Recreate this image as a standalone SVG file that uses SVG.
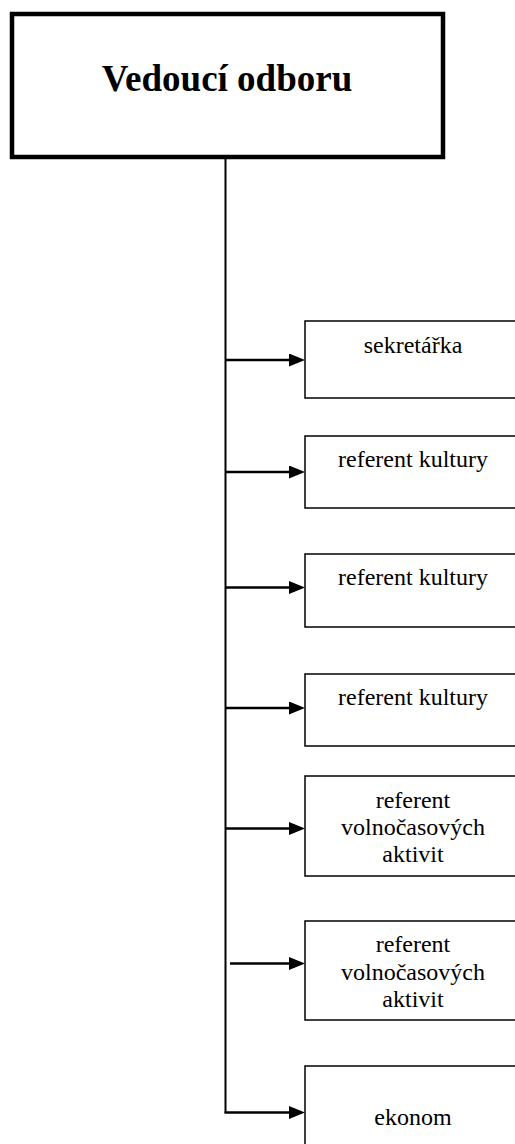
<svg xmlns="http://www.w3.org/2000/svg" width="515" height="1144" viewBox="0 0 515 1144">
  <style>
    .box { fill: #ffffff; stroke: #000000; stroke-width: 1.5; }
    .title { fill: #ffffff; stroke: #000000; stroke-width: 4.5; }
    .lbl { font-family: "Liberation Serif", "Times New Roman", serif; font-size: 24px; fill: #000000; text-anchor: middle; }
    .ttl { font-family: "Liberation Serif", "Times New Roman", serif; font-size: 37px; font-weight: bold; fill: #000000; text-anchor: middle; }
    .conn { stroke: #000000; stroke-width: 2; fill: none; }
    .arr { stroke: #000000; stroke-width: 2.5; fill: none; }
  </style>
  <defs>
    <marker id="ah" viewBox="0 0 16 13" refX="0" refY="6.5" markerWidth="16" markerHeight="13" markerUnits="userSpaceOnUse" orient="auto">
      <path d="M0,0 L16,6.5 L0,13 z" fill="#000000"/>
    </marker>
  </defs>
  <rect width="515" height="1144" fill="#ffffff"/>

  <g id="connectors">
    <line class="conn" x1="225.5" y1="159" x2="225.5" y2="1113"/>
    <line class="arr" x1="225" y1="360" x2="289" y2="360" marker-end="url(#ah)"/>
    <line class="arr" x1="225" y1="472" x2="289" y2="472" marker-end="url(#ah)"/>
    <line class="arr" x1="225" y1="587.5" x2="289" y2="587.5" marker-end="url(#ah)"/>
    <line class="arr" x1="225" y1="708" x2="289" y2="708" marker-end="url(#ah)"/>
    <line class="arr" x1="225" y1="828.5" x2="289" y2="828.5" marker-end="url(#ah)"/>
    <line class="arr" x1="230" y1="963.5" x2="289" y2="963.5" marker-end="url(#ah)"/>
    <line class="arr" x1="224.5" y1="1112.5" x2="289" y2="1112.5" marker-end="url(#ah)"/>
  </g>

  <g id="vedouci">
    <rect class="title" x="12" y="14" width="431" height="143"/>
    <text class="ttl" x="227" y="91">Vedoucí odboru</text>
  </g>

  <g id="sekretarka">
    <rect class="box" x="305" y="321" width="216" height="77"/>
    <text class="lbl" x="413" y="353">sekretářka</text>
  </g>

  <g id="referent-kultury-1">
    <rect class="box" x="305" y="436" width="216" height="72"/>
    <text class="lbl" x="413" y="467">referent kultury</text>
  </g>

  <g id="referent-kultury-2">
    <rect class="box" x="305" y="554" width="216" height="73"/>
    <text class="lbl" x="413" y="585">referent kultury</text>
  </g>

  <g id="referent-kultury-3">
    <rect class="box" x="305" y="674" width="216" height="72"/>
    <text class="lbl" x="413" y="705">referent kultury</text>
  </g>

  <g id="referent-volnocas-1">
    <rect class="box" x="305" y="776" width="216" height="100"/>
    <text class="lbl" x="413" y="808">referent</text>
    <text class="lbl" x="413" y="835">volnočasových</text>
    <text class="lbl" x="413" y="862">aktivit</text>
  </g>

  <g id="referent-volnocas-2">
    <rect class="box" x="305" y="921" width="216" height="99"/>
    <text class="lbl" x="413" y="952">referent</text>
    <text class="lbl" x="413" y="980">volnočasových</text>
    <text class="lbl" x="413" y="1007">aktivit</text>
  </g>

  <g id="ekonom">
    <rect class="box" x="305" y="1066" width="216" height="100"/>
    <text class="lbl" x="413" y="1125">ekonom</text>
  </g>
</svg>
